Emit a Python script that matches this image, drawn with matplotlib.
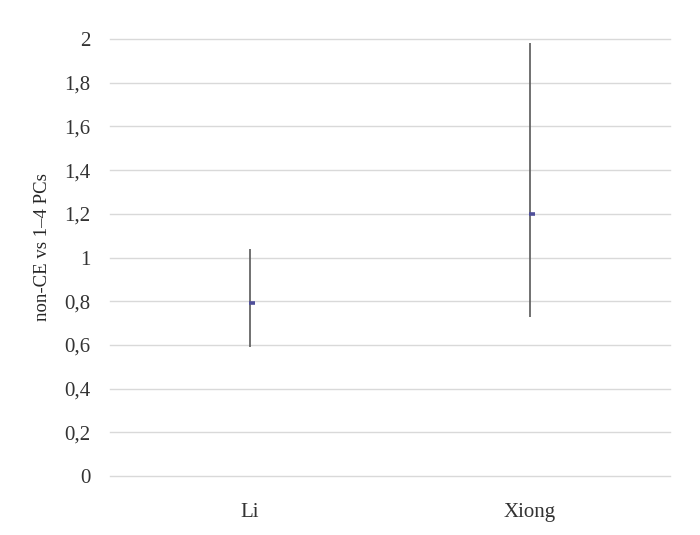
import matplotlib.pyplot as plt
from matplotlib.ticker import FuncFormatter

# Data
studies = ['Li', 'Xiong']
estimate = [0.79, 1.20]
ci_low = [0.59, 0.73]
ci_high = [1.04, 1.98]

plt.rcParams['font.family'] = ['Liberation Serif', 'DejaVu Serif']

fig = plt.figure(figsize=(7, 5.35), dpi=100)
ax = fig.add_axes([0.157, 0.11, 0.8, 0.817])

x = list(range(len(studies)))

# Confidence interval lines
ax.vlines(x, ci_low, ci_high, color='#595959', linewidth=1.2, zorder=3)

# Point estimates (short dash, shifted slightly right like the original)
ax.plot([v + 0.007 for v in x], estimate, linestyle='none', marker='_',
        markersize=4.5, markeredgewidth=2.6, color='#4f4f9a', zorder=4)

ax.set_xlim(-0.5, 1.5)
ax.set_ylim(0, 2)
ax.set_yticks([i * 0.2 for i in range(11)])
ax.yaxis.set_major_formatter(FuncFormatter(
    lambda v, p: '0' if abs(v) < 1e-9 else ('%g' % round(v, 1)).replace('.', ',')))
ax.set_xticks(x)
ax.set_xticklabels(studies)

ax.grid(axis='y', color='#d9d9d9', linewidth=1)
ax.set_axisbelow(True)
for line in ax.get_ygridlines():
    line.set_clip_on(False)
for s in ax.spines.values():
    s.set_visible(False)
ax.tick_params(length=0, labelsize=15, colors='#333333')
ax.tick_params(axis='y', pad=14)
ax.tick_params(axis='x', pad=19)

ax.set_ylabel('non-CE vs 1–4 PCs', fontsize=13.5, color='#262626')
ax.yaxis.set_label_coords(-0.105, 0.524)

plt.savefig('out.png', dpi=100)
